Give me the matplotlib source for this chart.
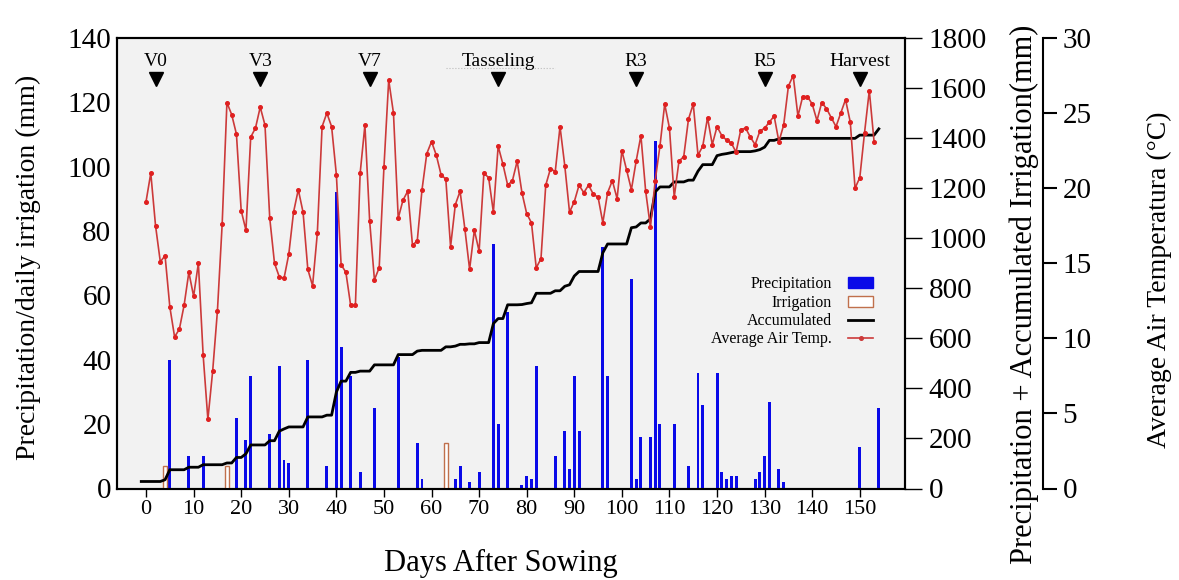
import numpy as np
import matplotlib
matplotlib.use('Agg')
import matplotlib.pyplot as plt
from matplotlib.patches import Patch
from matplotlib.lines import Line2D

plt.rcParams['font.family'] = ['Liberation Serif', 'DejaVu Serif']

# ---------------- data ----------------
precip_days = [5, 9, 12, 19, 21, 22, 26, 28, 29, 30, 34, 38, 40, 41, 43, 45, 48, 53, 57, 58,
               65, 66, 68, 70, 73, 74, 76, 79, 80, 81, 82, 86, 88, 89, 90, 91, 96, 97,
               102, 103, 104, 106, 107, 108, 111, 114, 116, 117, 120, 121, 122, 123, 124,
               128, 129, 130, 131, 133, 134, 150, 154]
precip_mm = [40, 10, 10, 22, 15, 35, 17, 38, 9, 8, 40, 7, 92, 44, 35, 5, 25, 41, 14, 3,
             3, 7, 2, 5, 76, 20, 55, 1, 4, 3, 38, 10, 18, 6, 35, 18, 75, 35,
             65, 3, 16, 16, 108, 20, 20, 7, 36, 26, 36, 5, 3, 4, 4,
             3, 5, 10, 27, 6, 2, 13, 25]

irrig_days = [4, 17, 63]
irrig_mm = [7, 7, 14]

acc_start_mm = 28
acc_first_day = -1
acc_last_day = 154

temp_days = list(range(0, 154))
temp_c = [19.1, 21.0, 17.5, 15.1, 15.5, 12.1, 10.1, 10.6, 12.2, 14.4,
          12.8, 15.0, 8.9, 4.6, 7.8, 11.8, 17.6, 25.7, 24.9, 23.6,
          18.5, 17.2, 23.4, 24.0, 25.4, 24.2, 18.0, 15.0, 14.1, 14.0,
          15.6, 18.4, 19.9, 18.4, 14.6, 13.5, 17.0, 24.1, 25.0, 24.1,
          20.9, 14.9, 14.4, 12.2, 12.2, 21.0, 24.2, 17.8, 13.9, 14.7,
          21.4, 27.2, 25.0, 18.0, 19.2, 19.8, 16.2, 16.5, 19.9, 22.3,
          23.1, 22.2, 20.9, 20.6, 16.1, 18.9, 19.8, 17.3, 14.6, 17.2,
          15.8, 21.0, 20.7, 18.4, 22.8, 21.6, 20.2, 20.5, 21.8, 19.7,
          18.3, 17.7, 14.7, 15.3, 20.2, 21.3, 21.1, 24.1, 21.5, 18.4,
          19.1, 20.2, 19.7, 20.2, 19.6, 19.4, 17.7, 19.7, 20.5, 19.3,
          22.5, 21.2, 19.9, 21.8, 23.5, 19.8, 17.4, 20.5, 22.8, 25.6,
          24.0, 19.4, 21.8, 22.1, 24.6, 25.6, 22.2, 22.8, 24.7, 22.9,
          24.1, 23.5, 23.2, 23.0, 22.4, 23.9, 24.0, 23.4, 22.9, 23.8,
          24.0, 24.4, 24.8, 23.1, 24.2, 26.8, 27.5, 24.8, 26.1, 26.1,
          25.6, 24.5, 25.7, 25.3, 24.7, 24.1, 25.0, 25.9, 24.4, 20.0,
          20.7, 23.7, 26.5, 23.1]

stage_days = [2, 24, 47, 74, 103, 130, 150]
stage_labels = ['V0', 'V3', 'V7', 'Tasseling', 'R3', 'R5', 'Harvest']

xticks = list(range(0, 151, 10))
left_ticks = list(range(0, 141, 20))
right_ticks = list(range(0, 1801, 200))
temp_ticks = list(range(0, 31, 5))

# accumulated precipitation + irrigation
acc_days = np.arange(acc_first_day, acc_last_day + 1)
daily = np.zeros(len(acc_days))
for d, v in zip(precip_days, precip_mm):
    daily[d - acc_first_day] += v
for d, v in zip(irrig_days, irrig_mm):
    daily[d - acc_first_day] += v
acc = acc_start_mm + np.cumsum(daily)

# ---------------- figure ----------------
W, H = 1179, 580
fig = plt.figure(figsize=(W / 100, H / 100), dpi=100)
L, R, T, B = 117, 905, 38, 488.5
ax = fig.add_axes([L / W, 1 - B / H, (R - L) / W, (B - T) / H])
ax.set_facecolor('#f2f2f2')

blue = '#0a0ae8'
irr_edge = '#c0704c'
red = '#cc3a3a'

ax.bar(precip_days, precip_mm, width=0.62, color=blue, zorder=3)
ax.bar(irrig_days, irrig_mm, width=0.85, facecolor='white', edgecolor=irr_edge,
       linewidth=1.0, zorder=3)
ax.set_xlim(-6.1, 159.5)
ax.set_ylim(0, 140)
ax.set_xticks(xticks)
ax.set_yticks(left_ticks)
ax.tick_params(axis='x', direction='out', length=6, width=1, labelsize=16, pad=2)
ax.tick_params(axis='y', length=0, labelsize=21, pad=4)
for s in ax.spines.values():
    s.set_linewidth(1.5)
ax.set_xlabel('Days After Sowing', fontsize=22)
ax.xaxis.set_label_coords(0.487, -0.135)
ax.set_ylabel('Precipitation/daily irrigation (mm)', fontsize=20)
ax.yaxis.set_label_coords(-0.096, 0.49)

# stage markers
for d, lab in zip(stage_days, stage_labels):
    ax.plot([d], [127.3], marker='v', color='black', markersize=10, zorder=5,
            linestyle='none')
    ax.text(d, 132.6, lab, ha='center', va='center', fontsize=14, zorder=5)
tas = stage_days[stage_labels.index('Tasseling')]
ax.plot([tas - 11, tas + 12], [130.8, 130.8], linestyle=':', color='#bbbbbb',
        linewidth=0.8, zorder=4)

# accumulated axis
ax2 = ax.twinx()
ax2.plot(acc_days, acc, color='black', linewidth=2, zorder=4)
ax2.set_ylim(0, 1800)
ax2.set_yticks(right_ticks)
ax2.tick_params(axis='y', direction='out', length=12, width=1, labelsize=21, pad=5)
ax2.set_ylabel('Precipitation + Accumulated Irrigation(mm)', fontsize=22)
ax2.yaxis.set_label_coords(1.132, 0.43)
for s in ax2.spines.values():
    s.set_linewidth(1.5)

# temperature axis
ax3 = ax.twinx()
ax3.spines['right'].set_position(('axes', (1043 - L) / (R - L)))
for k in ['top', 'left', 'bottom']:
    ax3.spines[k].set_visible(False)
ax3.spines['right'].set_linewidth(1.5)
ax3.plot(temp_days, temp_c, color=red, linewidth=1.2, marker='o', markersize=2.6,
         markerfacecolor='#e02020', markeredgecolor='#e02020', zorder=5)
ax3.set_ylim(0, 30)
ax3.set_yticks(temp_ticks)
ax3.tick_params(axis='y', direction='out', length=10, width=1.5, labelsize=21, pad=4)
ax3.set_ylabel('Average Air Temperatura (°C)', fontsize=20)
ax3.yaxis.set_label_coords((1147 - L) / (R - L), 0.463)

handles = [Patch(facecolor=blue, edgecolor=blue),
           Patch(facecolor='white', edgecolor=irr_edge),
           Line2D([0], [0], color='black', linewidth=2),
           Line2D([0], [0], color=red, linewidth=1.2, marker='o', markersize=2.6)]
labels = ['Precipitation', 'Irrigation', 'Accumulated', 'Average Air Temp.']
leg = ax3.legend(handles, labels, loc='center right', bbox_to_anchor=(0.96, 0.392),
                 frameon=False, markerfirst=False, fontsize=11.5, handlelength=1.6,
                 handletextpad=1.0, labelspacing=0.15, borderaxespad=0, borderpad=0)

fig.savefig('out.png', dpi=100)
